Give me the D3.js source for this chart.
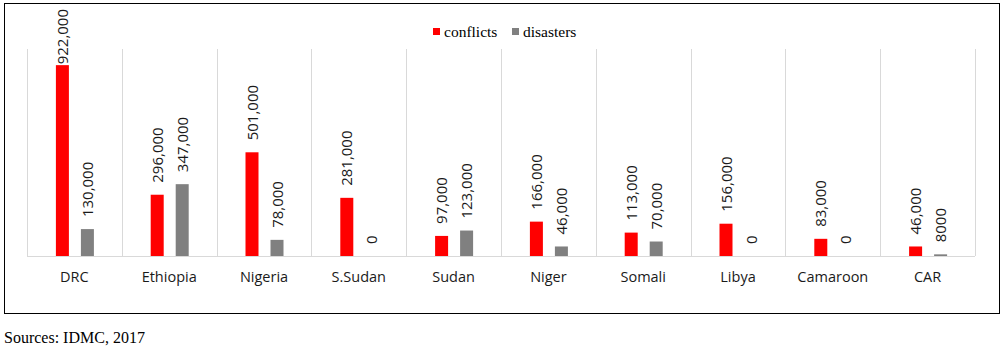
<!DOCTYPE html>
<html>
<head>
<meta charset="utf-8">
<script src="https://cdn.jsdelivr.net/npm/d3@7"></script>
<style>
  body { margin: 0; background: #fff; }
</style>
</head>
<body>
<div id="chart-container"></div>
<script>
// Displaced people by country, 2017
const countries = ["DRC", "Ethiopia", "Nigeria", "S.Sudan", "Sudan", "Niger", "Somali", "Libya", "Camaroon", "CAR"];
const conflicts = [922000, 296000, 501000, 281000, 97000, 166000, 113000, 156000, 83000, 46000];
const disasters = [130000, 347000, 78000, 0, 123000, 46000, 70000, 0, 0, 8000];
const seriesNames = ["conflicts", "disasters"];
const seriesColors = ["#ff0000", "#808080"];

const width = 1002;
const height = 348;

const svg = d3.select("#chart-container")
    .append("svg")
    .attr("width", width)
    .attr("height", height);

// outer frame
svg.append("rect")
    .attr("x", 4.5)
    .attr("y", 3.5)
    .attr("width", 995)
    .attr("height", 310)
    .attr("fill", "none")
    .attr("stroke", "#000")
    .attr("stroke-width", 1);

const xScale = d3.scaleBand()
    .domain(countries)
    .range([27, 975]);

const yScale = d3.scaleLinear()
    .domain([0, 1000000])
    .range([256, 49]);

// vertical separators
svg.append("g")
    .selectAll("line")
    .data(countries.concat(["end"]))
    .enter()
    .append("line")
    .attr("x1", (d, i) => Math.round(27 + i * xScale.bandwidth()) + 0.5)
    .attr("x2", (d, i) => Math.round(27 + i * xScale.bandwidth()) + 0.5)
    .attr("y1", 49)
    .attr("y2", 256)
    .attr("stroke", "#d9d9d9");

// baseline
svg.append("line")
    .attr("x1", 27)
    .attr("x2", 975)
    .attr("y1", 256.5)
    .attr("y2", 256.5)
    .attr("stroke", "#d9d9d9");

const barW = 13;
const offsets = [-18.5, 6.5];
const fmt = v => v >= 10000 ? d3.format(",")(v) : String(v);

[conflicts, disasters].forEach((values, s) => {
    const g = svg.append("g");
    g.selectAll("rect")
        .data(values)
        .enter()
        .append("rect")
        .attr("x", (d, i) => xScale(countries[i]) + xScale.bandwidth() / 2 + offsets[s])
        .attr("y", d => yScale(d))
        .attr("width", barW)
        .attr("height", d => yScale(0) - yScale(d))
        .attr("fill", seriesColors[s]);

    g.selectAll("text")
        .data(values)
        .enter()
        .append("text")
        .attr("font-family", "'Open Sans', sans-serif")
        .attr("font-size", 15)
        .attr("fill", "#1a1a1a")
        .attr("text-anchor", "start")
        .text(d => fmt(d))
        .each(function(d, i) {
            const cx = xScale(countries[i]) + xScale.bandwidth() / 2 + offsets[s] + barW / 2 + 5.5;
            const len = this.getComputedTextLength();
            let y0 = yScale(d) - 12;
            if (y0 - len < 9) y0 = 9 + len;
            d3.select(this).attr("transform", `translate(${cx},${y0}) rotate(-90)`);
        });
});

// category labels
svg.append("g")
    .selectAll("text")
    .data(countries)
    .enter()
    .append("text")
    .attr("x", d => xScale(d) + xScale.bandwidth() / 2)
    .attr("y", 282)
    .attr("text-anchor", "middle")
    .attr("font-family", "'Open Sans', sans-serif")
    .attr("font-size", 14.5)
    .attr("fill", "#1a1a1a")
    .text(d => d);

// legend
const legend = svg.append("g");
const legendX = [433, 512];
seriesNames.forEach((name, i) => {
    legend.append("rect")
        .attr("x", legendX[i])
        .attr("y", 28)
        .attr("width", 7)
        .attr("height", 7)
        .attr("fill", seriesColors[i]);
    legend.append("text")
        .attr("x", legendX[i] + 11)
        .attr("y", 37)
        .attr("font-family", "'Liberation Serif', 'Times New Roman', serif")
        .attr("font-size", 15.5)
        .attr("fill", "#000")
        .text(name);
});

// source note
svg.append("text")
    .attr("x", 4)
    .attr("y", 343)
    .attr("font-family", "'Liberation Serif', 'Times New Roman', serif")
    .attr("font-size", 16)
    .attr("fill", "#000")
    .text("Sources: IDMC, 2017");
</script>
</body>
</html>
